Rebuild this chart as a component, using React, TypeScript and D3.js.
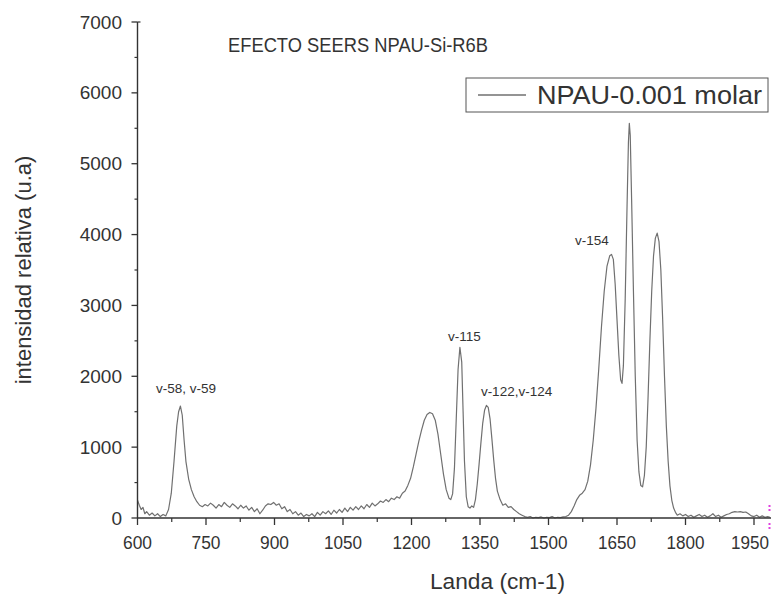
import React from "react";
import * as d3 from "d3";

const wavenumber: number[] = [
  600, 604, 608, 612, 616, 620, 626, 632, 638, 644, 650, 656, 662, 668, 674, 680, 686, 690, 694, 698,
  702, 706, 712, 718, 724, 730, 736, 742, 748, 754, 760, 766, 772, 778, 784, 790, 796, 802, 808, 814,
  820, 826, 832, 838, 844, 850, 856, 862, 868, 874, 880, 886, 892, 898, 904, 910, 916, 922, 928, 934,
  940, 946, 952, 958, 964, 970, 976, 982, 988, 994, 1000, 1006, 1012, 1018, 1024, 1030, 1036, 1042, 1048, 1054,
  1060, 1066, 1072, 1078, 1084, 1090, 1096, 1102, 1108, 1114, 1120, 1126, 1132, 1138, 1144, 1150, 1156, 1162, 1168, 1174,
  1180, 1186, 1192, 1198, 1204, 1210, 1216, 1222, 1228, 1234, 1240, 1246, 1252, 1258, 1264, 1270, 1276, 1282, 1286, 1290,
  1294, 1298, 1302, 1306, 1310, 1313, 1316, 1320, 1324, 1328, 1332, 1336, 1340, 1344, 1348, 1352, 1356, 1360, 1364, 1368,
  1372, 1376, 1380, 1384, 1388, 1394, 1400, 1406, 1412, 1418, 1424, 1430, 1436, 1442, 1448, 1454, 1460, 1466, 1472, 1478,
  1484, 1490, 1496, 1502, 1508, 1514, 1520, 1526, 1532, 1538, 1544, 1550, 1556, 1562, 1568, 1574, 1580, 1586, 1592, 1598,
  1604, 1610, 1616, 1622, 1628, 1634, 1638, 1642, 1646, 1650, 1654, 1658, 1661, 1664, 1668, 1672, 1675, 1677, 1679, 1682,
  1686, 1690, 1694, 1698, 1702, 1706, 1710, 1714, 1718, 1722, 1726, 1730, 1734, 1738, 1742, 1746, 1750, 1754, 1758, 1762,
  1766, 1770, 1774, 1778, 1782, 1788, 1794, 1800, 1806, 1812, 1818, 1824, 1830, 1836, 1842, 1848, 1854, 1860, 1866, 1872,
  1878, 1884, 1890, 1896, 1902, 1908, 1914, 1920, 1926, 1932, 1938, 1944, 1950, 1956, 1962, 1968, 1974, 1980, 1985,
];

const intensity: number[] = [
  250, 180, 120, 150, 60, 90, 40, 70, 30, 60, 20, 50, 30, 120, 350, 800, 1300, 1500, 1580, 1450,
  1100, 800, 550, 400, 300, 230, 180, 160, 190, 170, 210, 180, 140, 190, 160, 220, 180, 150, 200, 170,
  130, 180, 140, 170, 110, 150, 90, 130, 60, 110, 170, 200, 190, 220, 180, 200, 130, 160, 90, 120,
  60, 90, 40, 70, 20, 50, 30, 60, 20, 80, 40, 90, 60, 100, 50, 110, 70, 120, 80, 140,
  90, 150, 110, 160, 120, 170, 130, 190, 150, 210, 170, 200, 240, 220, 260, 230, 280, 260, 300, 280,
  350, 380, 460, 560, 720, 900, 1080, 1240, 1380, 1460, 1490, 1470, 1380, 1180, 900, 620, 400, 280, 260, 340,
  700, 1400, 2100, 2410, 2200, 1500, 800, 300, 160, 140, 170, 150, 260, 480, 760, 1060, 1340, 1520, 1590, 1560,
  1400, 1120, 820, 560, 380, 260, 180, 200, 150, 160, 120, 90, 60, 40, 20, 10, 20, 0, 10, 5,
  15, 0, 10, 5, 20, 0, 10, 5, 15, 20, 40, 90, 170, 260, 320, 350, 400, 520, 750, 1100,
  1550, 2100, 2700, 3200, 3550, 3700, 3720, 3650, 3300, 2800, 2300, 1950, 1900, 2150, 3100, 4400, 5300, 5570, 5400, 4500,
  3200, 2000, 1100, 650, 460, 440, 600, 1000, 1700, 2500, 3200, 3700, 3950, 4020, 3900, 3500, 2800, 2000, 1300, 800,
  450, 250, 140, 80, 40, 60, 30, 50, 20, 40, 10, 30, 50, 20, 40, 10, 30, 60, 20, 40,
  10, 30, 50, 60, 80, 90, 85, 90, 80, 85, 60, 30, 20, 40, 10, 30, 10, 20, 10,
];

const xTicks: number[] = [600, 750, 900, 1050, 1200, 1350, 1500, 1650, 1800, 1950];
const yTicks: number[] = [0, 1000, 2000, 3000, 4000, 5000, 6000, 7000];

const annotationLabels: string[] = ["v-58, v-59", "v-115", "v-122,v-124", "v-154"];
const annotationX: number[] = [706, 1316, 1430, 1595];
const annotationY: number[] = [1770, 2500, 1720, 3850];

const title = "EFECTO SEERS NPAU-Si-R6B";
const seriesName = "NPAU-0.001 molar";
const xLabel = "Landa (cm-1)";
const yLabel = "intensidad relativa (u.a)";

export default function App() {
  const W = 771;
  const H = 599;
  const x0 = 137.5;
  const x = d3.scaleLinear().domain([600, 1950]).range([x0, 754]);
  const y = d3.scaleLinear().domain([0, 7000]).range([518, 22]);
  const xEnd = 771;

  const pts: [number, number][] = wavenumber.map((w, i) => [w, intensity[i]]);
  const line = d3
    .line<[number, number]>()
    .x((d) => x(d[0]))
    .y((d) => y(d[1]));

  const xMinor = d3.range(675, 1990, 150);
  const yMinor = d3.range(500, 7000, 1000);
  const font = "'Liberation Sans', Arial, sans-serif";
  const axisColor = "#333";
  const textColor = "#333";

  return (
    <svg width={W} height={H} style={{ position: "absolute", left: 0, top: 0, background: "#fff" }} fontFamily={font}>
      <rect x={0} y={0} width={W} height={H} fill="#fff" />
      {/* spectrum line */}
      <path d={line(pts) || ""} fill="none" stroke="#707070" strokeWidth={1.2} strokeLinejoin="round" />

      {/* axes */}
      <line x1={x0} x2={x0} y1={y(7000)} y2={y(0)} stroke={axisColor} strokeWidth={1.4} />
      <line x1={x0} x2={xEnd} y1={y(0)} y2={y(0)} stroke={axisColor} strokeWidth={1.4} />
      {yTicks.map((t) => (
        <g key={"yt" + t}>
          <line x1={x0 - 6} x2={x0} y1={y(t)} y2={y(t)} stroke={axisColor} strokeWidth={1.3} />
          <text x={122} y={y(t) + 6.5} textAnchor="end" fontSize={19} fill={textColor}>
            {t}
          </text>
        </g>
      ))}
      {yMinor.map((t) => (
        <line key={"ym" + t} x1={x0 - 3} x2={x0} y1={y(t)} y2={y(t)} stroke={axisColor} strokeWidth={1.2} />
      ))}
      <line x1={x0} x2={x0 + 3} y1={y(7000)} y2={y(7000)} stroke={axisColor} strokeWidth={1.2} />
      {xTicks.map((t) => (
        <g key={"xt" + t}>
          <line x1={x(t)} x2={x(t)} y1={518} y2={525} stroke={axisColor} strokeWidth={1.3} />
          <text
            x={Math.min(x(t), 750)}
            y={549}
            textAnchor="middle"
            fontSize={18}
            fill={textColor}
            textLength={t >= 1000 ? 38 : 29}
            lengthAdjust="spacingAndGlyphs"
          >
            {t}
          </text>
        </g>
      ))}
      {xMinor.map((t) => (
        <line key={"xm" + t} x1={x(t)} x2={x(t)} y1={518} y2={522} stroke={axisColor} strokeWidth={1.2} />
      ))}

      {/* magenta marks at the right edge */}
      <line x1={769.5} x2={769.5} y1={505} y2={513} stroke="#e040e0" strokeWidth={2} strokeDasharray="2,2" />
      <line x1={769.5} x2={769.5} y1={523} y2={531} stroke="#e040e0" strokeWidth={2} strokeDasharray="2,2" />

      {/* annotations */}
      {annotationLabels.map((s, i) => (
        <text key={s} x={x(annotationX[i])} y={y(annotationY[i])} textAnchor="middle" fontSize={13.5} fill={textColor}>
          {s}
        </text>
      ))}

      {/* title */}
      <text x={228} y={52} fontSize={20} fill={textColor} textLength={260} lengthAdjust="spacingAndGlyphs">
        {title}
      </text>

      {/* legend */}
      <rect x={466} y={78} width={302} height={34} fill="#fff" stroke="#555" strokeWidth={1} />
      <line x1={478} x2={526} y1={95} y2={95} stroke="#707070" strokeWidth={1.4} />
      <text x={537} y={104} fontSize={25} fill={textColor} textLength={225} lengthAdjust="spacingAndGlyphs">
        {seriesName}
      </text>

      {/* axis labels */}
      <text x={430} y={589} fontSize={22} fill={textColor} textLength={135} lengthAdjust="spacingAndGlyphs">
        {xLabel}
      </text>
      <text transform={`translate(31,270) rotate(-90)`} textAnchor="middle" fontSize={22} fill={textColor}>
        {yLabel}
      </text>
    </svg>
  );
}
